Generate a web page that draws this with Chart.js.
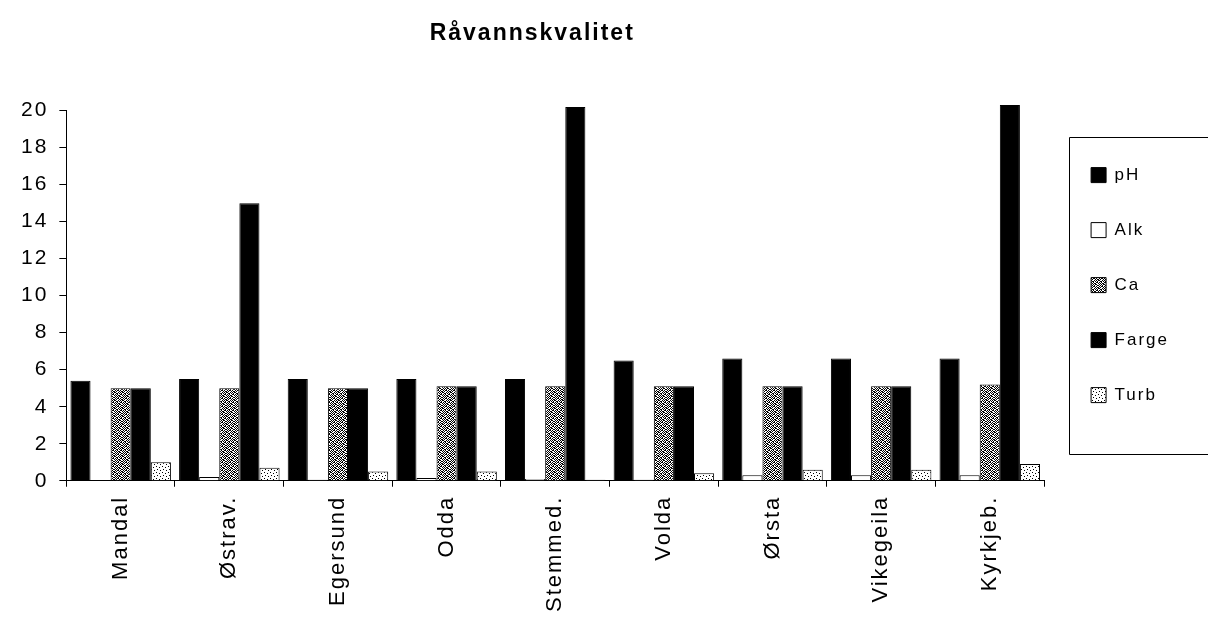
<!DOCTYPE html>
<html><head><meta charset="utf-8">
<script src="https://cdn.jsdelivr.net/npm/chart.js@4/dist/chart.umd.min.js"></script>
<style>html,body{margin:0;padding:0;background:#fff}#wrap{width:1208px;height:618px;position:relative}</style>
</head><body><div id="wrap"><canvas id="c"></canvas></div>
<script>
const categories = ['Mandal', 'Østrav.', 'Egersund', 'Odda', 'Stemmed.', 'Volda', 'Ørsta', 'Vikegeila', 'Kyrkjeb.'];
const seriesNames = ['pH', 'Alk', 'Ca', 'Farge', 'Turb'];
const pHValues    = [5.4, 5.5, 5.5, 5.5, 5.5, 6.5, 6.6, 6.6, 6.6];
const alkValues   = [0.0, 0.2, 0.05, 0.15, 0.1, 0.05, 0.3, 0.3, 0.3];
const caValues    = [5.0, 5.0, 5.0, 5.1, 5.1, 5.1, 5.1, 5.1, 5.2];
const fargeValues = [5.0, 15.0, 5.0, 5.1, 20.2, 5.1, 5.1, 5.1, 20.3];
const turbValues  = [1.0, 0.7, 0.5, 0.5, 0.05, 0.4, 0.6, 0.6, 0.9];
const yTickValues = [0, 2, 4, 6, 8, 10, 12, 14, 16, 18, 20];
const chartTitle = 'Råvannskvalitet';

Chart.defaults.font.family = "'Liberation Sans', Arial, sans-serif";
Chart.defaults.color = '#000';

const canvas = document.getElementById('c');
const mainCtx = canvas.getContext('2d');

function makePattern(rows) {
  const h = rows.length, w = rows[0].length;
  const c = document.createElement('canvas');
  c.width = w; c.height = h;
  const x = c.getContext('2d');
  x.fillStyle = '#fff'; x.fillRect(0, 0, w, h);
  x.fillStyle = '#000';
  rows.forEach((r, i) => { for (let j = 0; j < w; j++) if (r[j] === '1') x.fillRect(j, i, 1, 1); });
  return mainCtx.createPattern(c, 'repeat');
}
const caPattern = makePattern([
  '10110010',
  '01001101',
  '11010100',
  '00101011',
  '10010101',
  '01101010',
  '10010110',
  '01101001'
]);
const turbPattern = makePattern([
  '000000',
  '010000',
  '000010',
  '000000',
  '100000',
  '000100'
]);

const seriesValues = [pHValues, alkValues, caValues, fargeValues, turbValues];
const seriesFills = ['#000', '#fff', caPattern, '#000', turbPattern];

const datasets = seriesNames.map((name, i) => ({
  label: name,
  data: seriesValues[i],
  backgroundColor: seriesFills[i],
  borderColor: '#000',
  borderWidth: 1,
  clip: false
}));

const tweak = {
  id: 'tweak',
  beforeUpdate(chart) { chart.ctx.letterSpacing = '2px'; },
  beforeDraw(chart) { chart.ctx.letterSpacing = '2px'; },
  afterLayout(chart) {
    const lg = chart.legend, area = chart.chartArea;
    const w = lg.width;
    lg.left = area.right + 9; lg.right = lg.left + w;
    lg.top = area.top + 18; lg.bottom = lg.top + 330;
    const t = chart.titleBlock;
    t.left -= 23; t.right -= 23;
  },
  afterDraw(chart) {
    const lg = chart.legend, ctx = chart.ctx;
    ctx.save();
    ctx.strokeStyle = '#000';
    ctx.lineWidth = 1;
    const l = Math.round(lg.left + 16) + 0.5;
    const t = Math.round(lg.top + 8) + 0.5;
    const b = Math.round(lg.top + 325) + 0.5;
    ctx.beginPath();
    ctx.moveTo(chart.width + 5, t); ctx.lineTo(l, t); ctx.lineTo(l, b); ctx.lineTo(chart.width + 5, b);
    ctx.stroke();
    ctx.restore();
  }
};

new Chart(canvas, {
  type: 'bar',
  data: { labels: categories, datasets },
  plugins: [tweak],
  options: {
    responsive: true,
    maintainAspectRatio: false,
    animation: false,
    layout: { padding: { left: 10, right: 38, top: 0, bottom: -3 } },
    datasets: { bar: { categoryPercentage: 0.925, barPercentage: 1.0 } },
    plugins: {
      tooltip: { enabled: false },
      title: {
        display: true,
        text: chartTitle,
        fullSize: false,
        font: { size: 23, weight: 'bold' },
        color: '#000',
        padding: { top: 20, bottom: 63 }
      },
      legend: {
        position: 'right',
        align: 'start',
        labels: {
          boxWidth: 15,
          boxHeight: 15,
          padding: 38,
          font: { size: 17 },
          color: '#000'
        }
      }
    },
    scales: {
      x: {
        grid: { display: true, drawOnChartArea: false, offset: true, tickLength: 6, color: '#000', tickColor: '#000' },
        border: { display: true, color: '#000', width: 1 },
        ticks: { minRotation: 90, maxRotation: 90, autoSkip: false, padding: 9, font: { size: 22 }, color: '#000' }
      },
      y: {
        min: 0,
        max: 20,
        afterBuildTicks(scale) { scale.ticks = yTickValues.map(v => ({ value: v })); },
        grid: { display: true, drawOnChartArea: false, tickLength: 7, color: '#000', tickColor: '#000' },
        border: { display: true, color: '#000', width: 1 },
        ticks: { padding: 11, font: { size: 21 }, color: '#000' }
      }
    }
  }
});
</script>
</body></html>
